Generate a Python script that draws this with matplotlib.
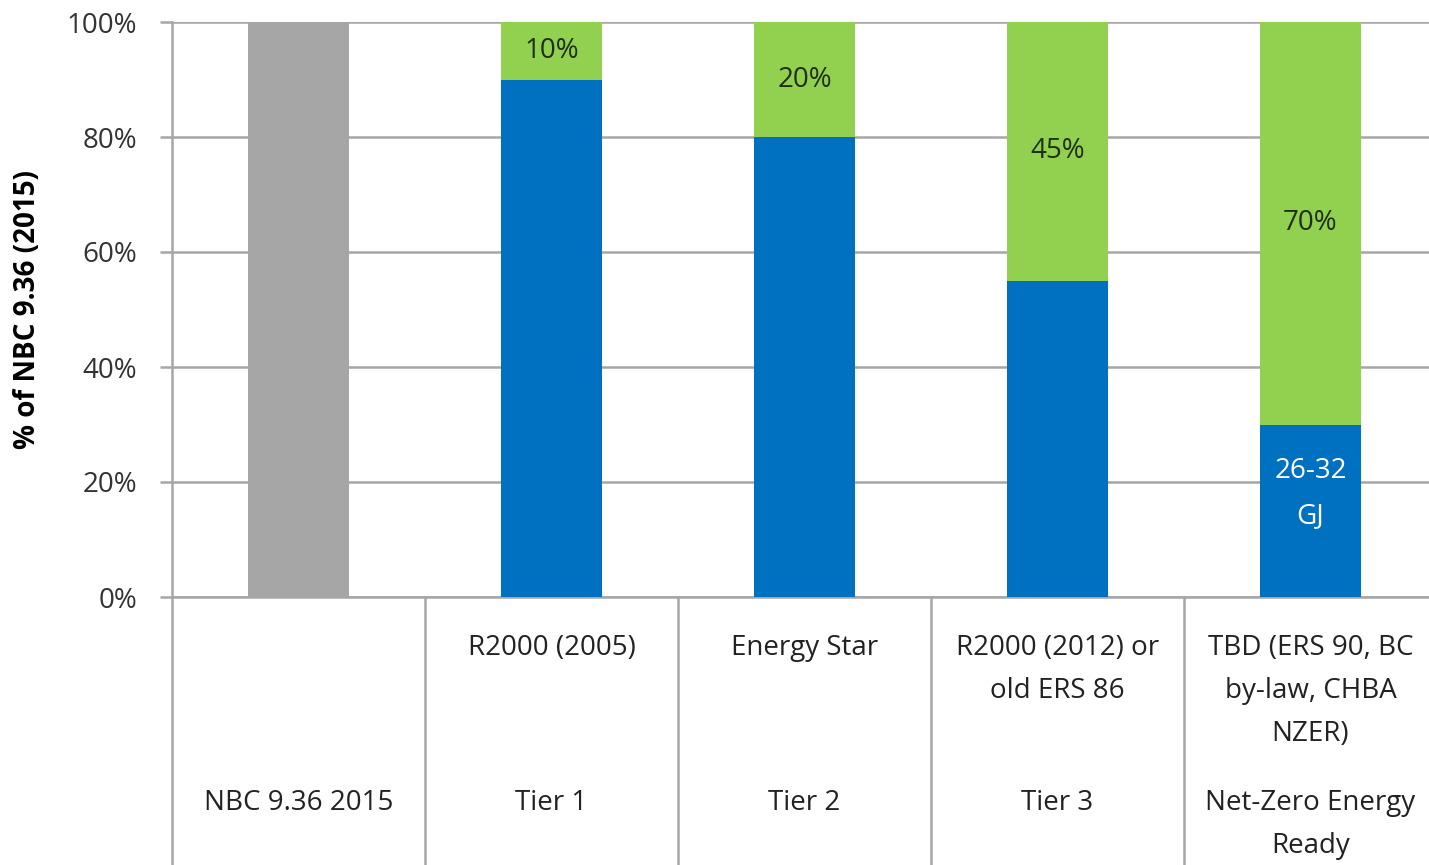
import matplotlib
matplotlib.use('Agg')
import matplotlib.pyplot as plt
import numpy as np

# data
top_labels = ['', 'R2000 (2005)', 'Energy Star', 'R2000 (2012) or\nold ERS 86',
              'TBD (ERS 90, BC\nby-law, CHBA\nNZER)']
bottom_labels = ['NBC 9.36 2015', 'Tier 1', 'Tier 2', 'Tier 3', 'Net-Zero Energy\nReady']
baseline = [100, 0, 0, 0, 0]
energy = [0, 90, 80, 55, 30]
savings = [0, 10, 20, 45, 70]
savings_text = ['', '10%', '20%', '45%', '70%']
energy_text = ['', '', '', '', '26-32\nGJ']

plt.rcParams['font.family'] = ['Open Sans', 'DejaVu Sans']
grid_c = '#a6a6a6'
fs = 20

fig = plt.figure(figsize=(14.29, 8.65), dpi=100)
W, H = 1429, 865
ax = fig.add_axes([172 / W, (H - 597) / H, (1437 - 172) / W, 575 / H])

x = np.arange(len(bottom_labels))
w = 0.40
ax.bar(x, baseline, w, color='#a6a6a6', zorder=3)
ax.bar(x, energy, w, color='#0070c0', zorder=3)
ax.bar(x, savings, w, bottom=energy, color='#92d050', zorder=3)

for i in x:
    if savings_text[i]:
        ax.text(i, energy[i] + savings[i] / 2, savings_text[i], ha='center', va='center',
                fontsize=fs, color='#1f2f14', zorder=4)
    if energy_text[i]:
        ax.text(i, energy[i] / 2 + 3, energy_text[i], ha='center', va='center',
                fontsize=fs, color='white', linespacing=1.8, zorder=4)

ax.set_xlim(-0.5, len(x) - 0.5)
ax.set_ylim(0, 100)
ax.set_yticks(np.arange(0, 101, 20))
ax.set_yticklabels(['%d%%' % v for v in range(0, 101, 20)], fontsize=fs, color='#333333')
ax.set_xticks([])
ax.yaxis.grid(True, color=grid_c, linewidth=1.8, zorder=0)
ax.tick_params(axis='y', length=9, width=1.8, color=grid_c, pad=16)
for s in ['top', 'right']:
    ax.spines[s].set_visible(False)
ax.spines['left'].set_color(grid_c)
ax.spines['left'].set_linewidth(1.8)
ax.spines['bottom'].set_color(grid_c)
ax.spines['bottom'].set_linewidth(1.8)

ax.set_ylabel('% of NBC 9.36 (2015)', fontsize=fs, fontweight='bold', labelpad=18)

# category table below the plot
px = 100 / 575.0
tbl_bottom = -(H - 597) * px
for b in np.arange(-0.5, len(x) - 0.4, 1.0):
    ax.plot([b, b], [0, tbl_bottom], color=grid_c, linewidth=1.8, clip_on=False)
for i in x:
    ax.text(i, -(634 - 597) * px, top_labels[i], ha='center', va='top', fontsize=fs,
            color='#222222', linespacing=1.72, clip_on=False)
    ax.text(i, -(789 - 597) * px, bottom_labels[i], ha='center', va='top', fontsize=fs,
            color='#222222', linespacing=1.72, clip_on=False)

fig.savefig('out.png', dpi=100)
